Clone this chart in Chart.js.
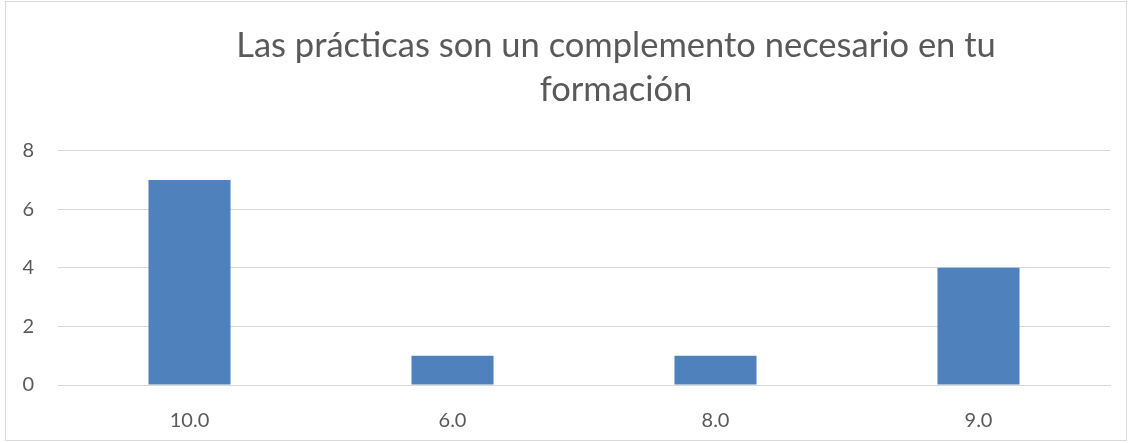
<!DOCTYPE html>
<html>
<head>
<meta charset="utf-8">
<script src="https://cdn.jsdelivr.net/npm/chart.js@4"></script>
<style>
  body { margin: 0; background: #fff; }
  #caja { position: relative; width: 1132px; height: 443px; }
  #marco { position: absolute; left: 5px; top: 1px; width: 1120px; height: 438px; border: 1px solid #d9d9d9; pointer-events: none; }
</style>
</head>
<body>
<div id="caja">
  <canvas id="myChart" width="1132" height="443"></canvas>
  <div id="marco"></div>
</div>
<script>
const categorias = ['10.0', '6.0', '8.0', '9.0'];
const valores = [7, 1, 1, 4];
const titulo = ['Las prácticas son un complemento necesario en tu', 'formación'];

// el titulo va algo corrido a la derecha, como en el original
const moverTitulo = {
  id: 'moverTitulo',
  afterLayout(chart) {
    if (chart.titleBlock) chart.titleBlock.left = 122
  }
};

const data = {
  labels: categorias,
  datasets: [{
    label: 'Serie 1',
    backgroundColor: '#4f81bd',
    data: valores,
    categoryPercentage: 0.312,
    barPercentage: 1
  }]
};

const config = {
  type: 'bar',
  data: data,
  plugins: [moverTitulo],
  options: {
    responsive: false,
    animation: false,
    layout: { padding: { left: 0, right: 22, top: 0, bottom: 0 } },
    plugins: {
      legend: { display: false },
      tooltip: { enabled: false },
      title: {
        display: true,
        text: titulo,
        color: '#595959',
        font: { family: 'Lato', size: 34.5, weight: 'normal', lineHeight: 1.3 },
        padding: { top: 23, bottom: 38 }
      }
    },
    scales: {
      x: {
        grid: { display: false, drawTicks: false },
        border: { color: '#d9d9d9', width: 1 },
        ticks: { color: '#595959', font: { family: 'Lato', size: 20 }, padding: 24 },
        afterFit: s => { s.height = 58 }
      },
      y: {
        min: 0,
        max: 8,
        ticks: { stepSize: 2, color: '#595959', font: { family: 'Lato', size: 20 }, padding: 24 },
        grid: { color: '#d9d9d9', drawTicks: false },
        border: { display: false },
        afterFit: s => { s.width = 58 }
      }
    }
  }
};

const myChart = new Chart(document.getElementById('myChart'), config);
</script>
</body>
</html>
